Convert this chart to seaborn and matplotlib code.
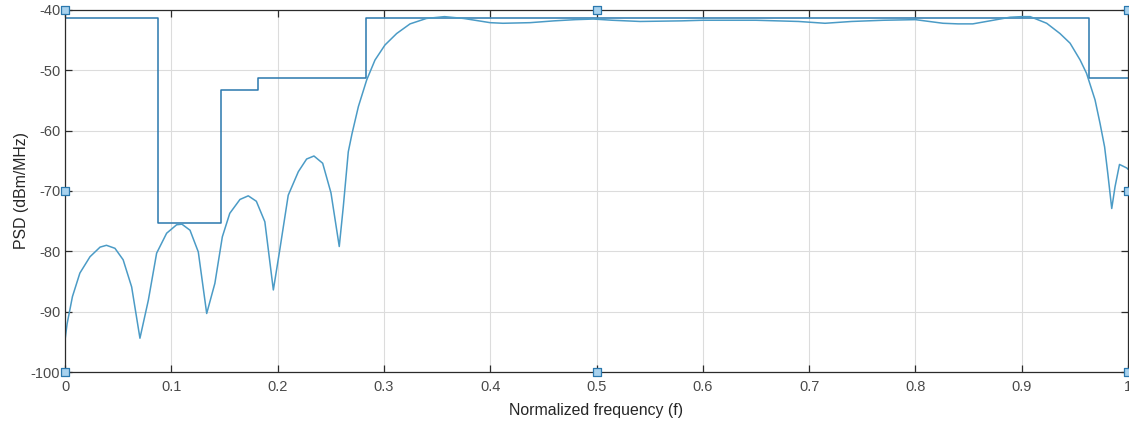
import numpy as np
import pandas as pd
import seaborn as sns
import matplotlib
matplotlib.use('Agg')
import matplotlib.pyplot as plt

# spectrum mask (step levels)
mask_f = [0.0, 0.0875, 0.1468, 0.1816, 0.283, 0.9636, 1.0]
mask_db = [-41.3, -75.3, -53.3, -51.3, -41.3, -51.3, -51.3]

# measured PSD curve
psd_f = [0.000, 0.002, 0.007, 0.014, 0.0235, 0.033, 0.039, 0.047, 0.0547, 0.0627,
         0.0705, 0.0784, 0.0862, 0.0956, 0.105, 0.110, 0.1176, 0.1254, 0.1333, 0.141,
         0.148, 0.155, 0.1646, 0.1724, 0.180, 0.188, 0.196, 0.202, 0.210, 0.2195,
         0.2273, 0.2342, 0.2424, 0.2502, 0.258, 0.2618, 0.2665, 0.270, 0.276, 0.2838,
         0.2916, 0.301, 0.312, 0.3246, 0.340, 0.357, 0.375, 0.400, 0.412, 0.4375,
         0.46, 0.48, 0.497, 0.515, 0.541, 0.58, 0.60, 0.65, 0.69, 0.715,
         0.74, 0.77, 0.80, 0.826, 0.84, 0.854, 0.87, 0.889, 0.900, 0.908,
         0.9235, 0.936, 0.9455, 0.955, 0.961, 0.969, 0.9737, 0.978, 0.981, 0.9847,
         0.9878, 0.992, 0.999, 1.0]
psd_db = [-94.7, -92.0, -87.5, -83.6, -80.9, -79.3, -79.0, -79.5, -81.4, -85.9,
          -94.4, -88.1, -80.3, -77.0, -75.6, -75.5, -76.5, -80.1, -90.3, -85.3,
          -77.6, -73.7, -71.4, -70.8, -71.7, -75.1, -86.4, -79.8, -70.7, -66.8,
          -64.7, -64.2, -65.4, -70.3, -79.2, -72.6, -63.5, -60.5, -56.0, -51.6,
          -48.3, -45.8, -43.9, -42.3, -41.4, -41.1, -41.4, -42.1, -42.2, -42.1,
          -41.8, -41.6, -41.5, -41.7, -41.9, -41.8, -41.7, -41.7, -41.9, -42.2,
          -41.9, -41.7, -41.6, -42.2, -42.3, -42.3, -41.8, -41.2, -41.1, -41.1,
          -42.2, -43.9, -45.5, -48.3, -50.5, -54.9, -58.8, -62.7, -67.1, -72.9,
          -69.3, -65.6, -66.2, -66.4]

# little square handles on the axes frame
handle_f = [0, 0, 0, 0.5, 0.5, 1, 1, 1]
handle_db = [-40, -70, -100, -40, -100, -40, -70, -100]

xticks = [0, 0.1, 0.2, 0.3, 0.4, 0.5, 0.6, 0.7, 0.8, 0.9, 1]
xticklabels = ['0', '0.1', '0.2', '0.3', '0.4', '0.5', '0.6', '0.7', '0.8', '0.9', '1']
yticks = [-100, -90, -80, -70, -60, -50, -40]

sns.set_style('white')
plt.rcParams['font.family'] = ['Liberation Sans', 'DejaVu Sans']
plt.rcParams['axes.unicode_minus'] = False

fig = plt.figure(figsize=(11.29, 4.21), dpi=100)
ax = fig.add_axes([65 / 1129, 1 - 372 / 421, 1063 / 1129, 362 / 421])

mask = pd.DataFrame({'f': mask_f, 'db': mask_db})
psd = pd.DataFrame({'f': psd_f, 'db': psd_db})

sns.lineplot(data=mask, x='f', y='db', ax=ax, color='#2a78ae', linewidth=1.1,
             drawstyle='steps-post', estimator=None)
sns.lineplot(data=psd, x='f', y='db', ax=ax, color='#4b9bc6', linewidth=1.1,
             estimator=None)
ax.scatter(handle_f, handle_db, marker='s', s=28, facecolor='#a8d2ee',
           edgecolor='#2a78ae', linewidth=0.9, zorder=5, clip_on=False)

ax.set_xlim(0, 1)
ax.set_ylim(-100, -40)
ax.set_xticks(xticks)
ax.set_xticklabels(xticklabels)
ax.set_yticks(yticks)
ax.grid(True, color='#dcdcdc', linewidth=0.8)
ax.set_axisbelow(True)
for s in ax.spines.values():
    s.set_color('#2b2b2b')
    s.set_linewidth(0.9)
ax.tick_params(direction='in', length=5, width=0.9, color='#2b2b2b',
               top=True, right=True, bottom=True, left=True,
               labelsize=10.5, labelcolor='#4a4a4a', pad=6)
ax.tick_params(axis='y', pad=3.5)
ax.set_xlabel('Normalized frequency (f)', fontsize=11.4, color='#262626', labelpad=6)
ax.set_ylabel('PSD (dBm/MHz)', fontsize=11.4, color='#262626', labelpad=1)

fig.savefig('out.png', dpi=100)
